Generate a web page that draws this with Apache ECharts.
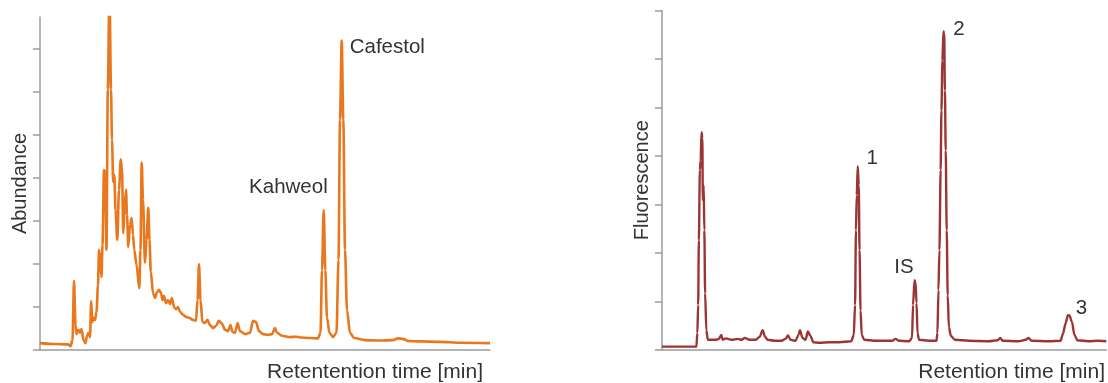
<!DOCTYPE html>
<html>
<head>
<meta charset="utf-8">
<script src="https://cdn.jsdelivr.net/npm/echarts@6/dist/echarts.min.js"></script>
<style>
  html, body { margin: 0; padding: 0; background: #fff; }
  #chart { width: 1108px; height: 383px; }
</style>
</head>
<body>
<div id="chart"></div>
<script>
// GC chromatogram (left): retention time [min] and abundance
const gcTime = [
  0.00, 1.50, 2.80, 3.05, 3.25, 3.40, 3.55, 3.65, 3.85, 4.00,
  4.15, 4.35, 4.55, 4.70, 4.85, 5.00, 5.12, 5.23, 5.35, 5.50,
  5.65, 5.80, 5.90, 6.03, 6.15, 6.25, 6.40, 6.52, 6.65, 6.78,
  6.95, 7.10, 7.20, 7.32, 7.43, 7.55, 7.73, 7.90, 8.07, 8.20,
  8.33, 8.45, 8.60, 8.70, 8.83, 9.00, 9.17, 9.30, 9.43, 9.65,
  9.93, 10.05, 10.17, 10.30, 10.50, 10.65, 10.83, 10.95, 11.08, 11.30,
  11.50, 11.70, 11.90, 12.10, 12.25, 12.40, 12.60, 12.80, 13.00, 13.20,
  13.40, 13.60, 13.80, 14.00, 14.30, 14.60, 14.90, 15.30, 15.60, 15.75,
  15.90, 16.05, 16.25, 16.50, 16.75, 17.00, 17.30, 17.60, 17.90, 18.20,
  18.50, 18.80, 19.05, 19.25, 19.50, 19.75, 20.00, 20.50, 21.00, 21.30,
  21.60, 21.90, 22.30, 22.80, 23.20, 23.50, 23.70, 24.20, 25.00, 25.60,
  26.00, 27.00, 27.80, 28.05, 28.20, 28.37, 28.53, 28.70, 28.95, 29.30,
  29.65, 29.85, 30.00, 30.17, 30.33, 30.50, 30.70, 31.00, 31.40, 32.50,
  34.00, 35.30, 35.80, 36.30, 36.80, 38.00, 40.00, 42.00, 45.00
];
const gcAbundance = [
  0.16, 0.14, 0.13, 0.09, 0.23, 1.61, 0.58, 0.37, 0.47, 0.40,
  0.49, 0.23, 0.16, 0.33, 0.40, 0.30, 1.14, 0.65, 0.75, 0.70,
  0.89, 1.51, 2.33, 2.05, 1.70, 2.45, 4.19, 4.15, 2.33, 6.06,
  8.38, 6.06, 4.89, 3.91, 4.08, 3.26, 2.56, 3.73, 4.43, 4.24,
  2.72, 3.26, 3.73, 3.14, 2.40, 2.91, 3.07, 2.68, 2.33, 1.98,
  1.44, 2.33, 4.36, 3.49, 2.03, 2.56, 3.31, 2.56, 1.82, 1.33,
  1.21, 1.35, 1.40, 1.33, 1.16, 1.26, 1.09, 1.16, 1.07, 1.21,
  1.00, 0.95, 1.00, 0.89, 0.82, 0.77, 0.75, 0.70, 0.68, 1.16,
  2.00, 1.16, 0.65, 0.63, 0.70, 0.58, 0.51, 0.56, 0.68, 0.61,
  0.47, 0.44, 0.58, 0.42, 0.40, 0.63, 0.44, 0.37, 0.40, 0.68,
  0.65, 0.44, 0.37, 0.35, 0.37, 0.51, 0.40, 0.33, 0.30, 0.31,
  0.29, 0.28, 0.27, 0.40, 1.86, 3.26, 1.86, 0.75, 0.40, 0.30,
  0.40, 2.10, 5.36, 7.20, 5.36, 2.33, 0.93, 0.40, 0.28, 0.23,
  0.22, 0.23, 0.27, 0.26, 0.21, 0.20, 0.19, 0.17, 0.16
];
const gcPeakNames = ['Kahweol', 'Cafestol'];
const gcPeakTimes = [28.37, 30.17];

// HPLC chromatogram (right): retention time [min] and fluorescence
const lcTime = [
  0.00, 3.45, 3.55, 3.63, 3.70, 3.80, 3.88, 3.97, 4.05, 4.10,
  4.18, 4.25, 4.33, 4.45, 4.60, 5.00, 5.40, 5.70, 5.95, 6.10,
  6.40, 7.00, 7.60, 8.00, 8.30, 8.80, 9.40, 9.80, 10.10, 10.35,
  10.60, 11.30, 12.00, 12.40, 12.65, 12.90, 13.40, 13.70, 13.85, 14.10,
  14.40, 14.65, 14.90, 15.20, 15.80, 16.80, 17.80, 19.00, 19.25, 19.38,
  19.47, 19.55, 19.65, 19.75, 19.83, 19.93, 20.05, 20.30, 21.30, 22.30,
  23.10, 23.45, 23.80, 24.80, 25.10, 25.20, 25.35, 25.45, 25.55, 25.65,
  25.80, 26.80, 27.55, 27.65, 27.75, 27.85, 27.97, 28.05, 28.15, 28.25,
  28.33, 28.40, 28.48, 28.58, 28.68, 28.80, 29.00, 29.40, 30.80, 32.80,
  33.70, 33.95, 34.20, 35.80, 36.50, 36.80, 37.10, 38.80, 40.00, 40.25,
  40.50, 40.75, 40.90, 41.15, 41.40, 41.70, 42.80, 43.80, 44.60
];
const lcFluorescence = [
  0.07, 0.07, 0.35, 0.93, 2.26, 3.71, 3.91, 4.49, 4.37, 3.09,
  3.40, 2.47, 1.17, 0.41, 0.21, 0.21, 0.21, 0.23, 0.31, 0.21,
  0.24, 0.21, 0.23, 0.21, 0.25, 0.21, 0.21, 0.27, 0.41, 0.27,
  0.21, 0.19, 0.19, 0.23, 0.30, 0.21, 0.19, 0.31, 0.41, 0.25,
  0.21, 0.38, 0.29, 0.16, 0.15, 0.16, 0.16, 0.18, 0.31, 0.93,
  2.47, 3.19, 3.79, 3.40, 2.06, 0.82, 0.31, 0.21, 0.19, 0.19,
  0.19, 0.23, 0.19, 0.18, 0.25, 0.93, 1.44, 1.40, 0.97, 0.35,
  0.21, 0.19, 0.19, 0.35, 1.24, 2.06, 3.71, 4.94, 5.97, 6.57,
  6.53, 5.35, 4.12, 2.47, 1.13, 0.47, 0.29, 0.21, 0.19, 0.18,
  0.20, 0.25, 0.19, 0.18, 0.21, 0.25, 0.19, 0.18, 0.19, 0.33,
  0.54, 0.72, 0.71, 0.58, 0.31, 0.20, 0.18, 0.19, 0.18
];
const lcPeakNames = ['1', 'IS', '2', '3'];
const lcPeakTimes = [19.65, 25.35, 28.25, 40.75];

const yTicks = [0, 1, 2, 3, 4, 5, 6, 7];

const TEXT = '#333333';
const AXIS = '#9c9c9c';
const FONT = '"Liberation Sans", Arial, sans-serif';

function pairs(xs, ys) { return xs.map((x, i) => [x, ys[i]]); }

// label anchored on the peak apex, text placement per peak
function peakMarks(names, times, xs, ys, placements) {
  return names.map((name, i) => {
    const k = xs.indexOf(times[i]);
    const p = placements[i];
    return {
      name: name,
      coord: [xs[k], ys[k]],
      label: {
        show: true, formatter: name, position: 'inside',
        align: p.align, verticalAlign: 'middle', offset: p.offset,
        color: TEXT, fontFamily: FONT, fontSize: 20.5
      }
    };
  });
}

const axisLineStyle = { show: true, lineStyle: { color: AXIS, width: 1.5 } };

const chart = echarts.init(document.getElementById('chart'), null, { renderer: 'canvas' });

chart.setOption({
  animation: false,
  backgroundColor: '#ffffff',
  grid: [
    { left: 40, top: 17, width: 450, height: 333 },
    { left: 662, top: 10.5, width: 446, height: 339.5 }
  ],
  xAxis: [
    {
      gridIndex: 0, type: 'value', min: 0, max: 45,
      axisLine: axisLineStyle, axisTick: { show: false }, axisLabel: { show: false },
      splitLine: { show: false },
      name: 'Retentention time [min]', nameLocation: 'end', nameGap: -7,
      nameTextStyle: { color: TEXT, fontFamily: FONT, fontSize: 21, align: 'right', verticalAlign: 'top', padding: [12, 0, 0, 0] }
    },
    {
      gridIndex: 1, type: 'value', min: 0, max: 44.6,
      axisLine: axisLineStyle, axisTick: { show: false }, axisLabel: { show: false },
      splitLine: { show: false },
      name: 'Retention time [min]', nameLocation: 'end', nameGap: -1.3,
      nameTextStyle: { color: TEXT, fontFamily: FONT, fontSize: 21, align: 'right', verticalAlign: 'top', padding: [12, 0, 0, 0] }
    }
  ],
  yAxis: [
    {
      gridIndex: 0, type: 'value', min: 0, max: 7.75, interval: 1,
      axisLine: axisLineStyle,
      axisTick: { show: true, inside: false, length: 7, customValues: yTicks, lineStyle: { color: AXIS, width: 1.5 } },
      axisLabel: { show: false }, splitLine: { show: false },
      name: 'Abundance', nameLocation: 'middle', nameGap: 10,
      nameTextStyle: { color: TEXT, fontFamily: FONT, fontSize: 20 }
    },
    {
      gridIndex: 1, type: 'value', min: 0, max: 7, interval: 1,
      axisLine: axisLineStyle,
      axisTick: { show: true, inside: false, length: 7, lineStyle: { color: AXIS, width: 1.5 } },
      axisLabel: { show: false }, splitLine: { show: false },
      name: 'Fluorescence', nameLocation: 'middle', nameGap: 10,
      nameTextStyle: { color: TEXT, fontFamily: FONT, fontSize: 20 }
    }
  ],
  series: [
    {
      type: 'line', xAxisIndex: 0, yAxisIndex: 0,
      data: pairs(gcTime, gcAbundance),
      showSymbol: false, clip: true,
      smooth: 0.3, smoothMonotone: 'x',
      lineStyle: { color: '#E8771E', width: 2.6, join: 'round' },
      markPoint: {
        symbol: 'circle', symbolSize: 0, silent: true,
        data: peakMarks(gcPeakNames, gcPeakTimes, gcTime, gcAbundance, [
          { align: 'right', offset: [4, -23] },
          { align: 'left', offset: [8, 7] }
        ])
      }
    },
    {
      type: 'line', xAxisIndex: 1, yAxisIndex: 1,
      data: pairs(lcTime, lcFluorescence),
      showSymbol: false, clip: true,
      smooth: 0.3, smoothMonotone: 'x',
      lineStyle: { color: '#9B3535', width: 2.4, join: 'round' },
      markPoint: {
        symbol: 'circle', symbolSize: 0, silent: true,
        data: peakMarks(lcPeakNames, lcPeakTimes, lcTime, lcFluorescence, [
          { align: 'center', offset: [14.5, -8] },
          { align: 'center', offset: [-10.5, -13] },
          { align: 'center', offset: [15.5, -2] },
          { align: 'center', offset: [13.5, -6.5] }
        ])
      }
    }
  ]
});
</script>
</body>
</html>
